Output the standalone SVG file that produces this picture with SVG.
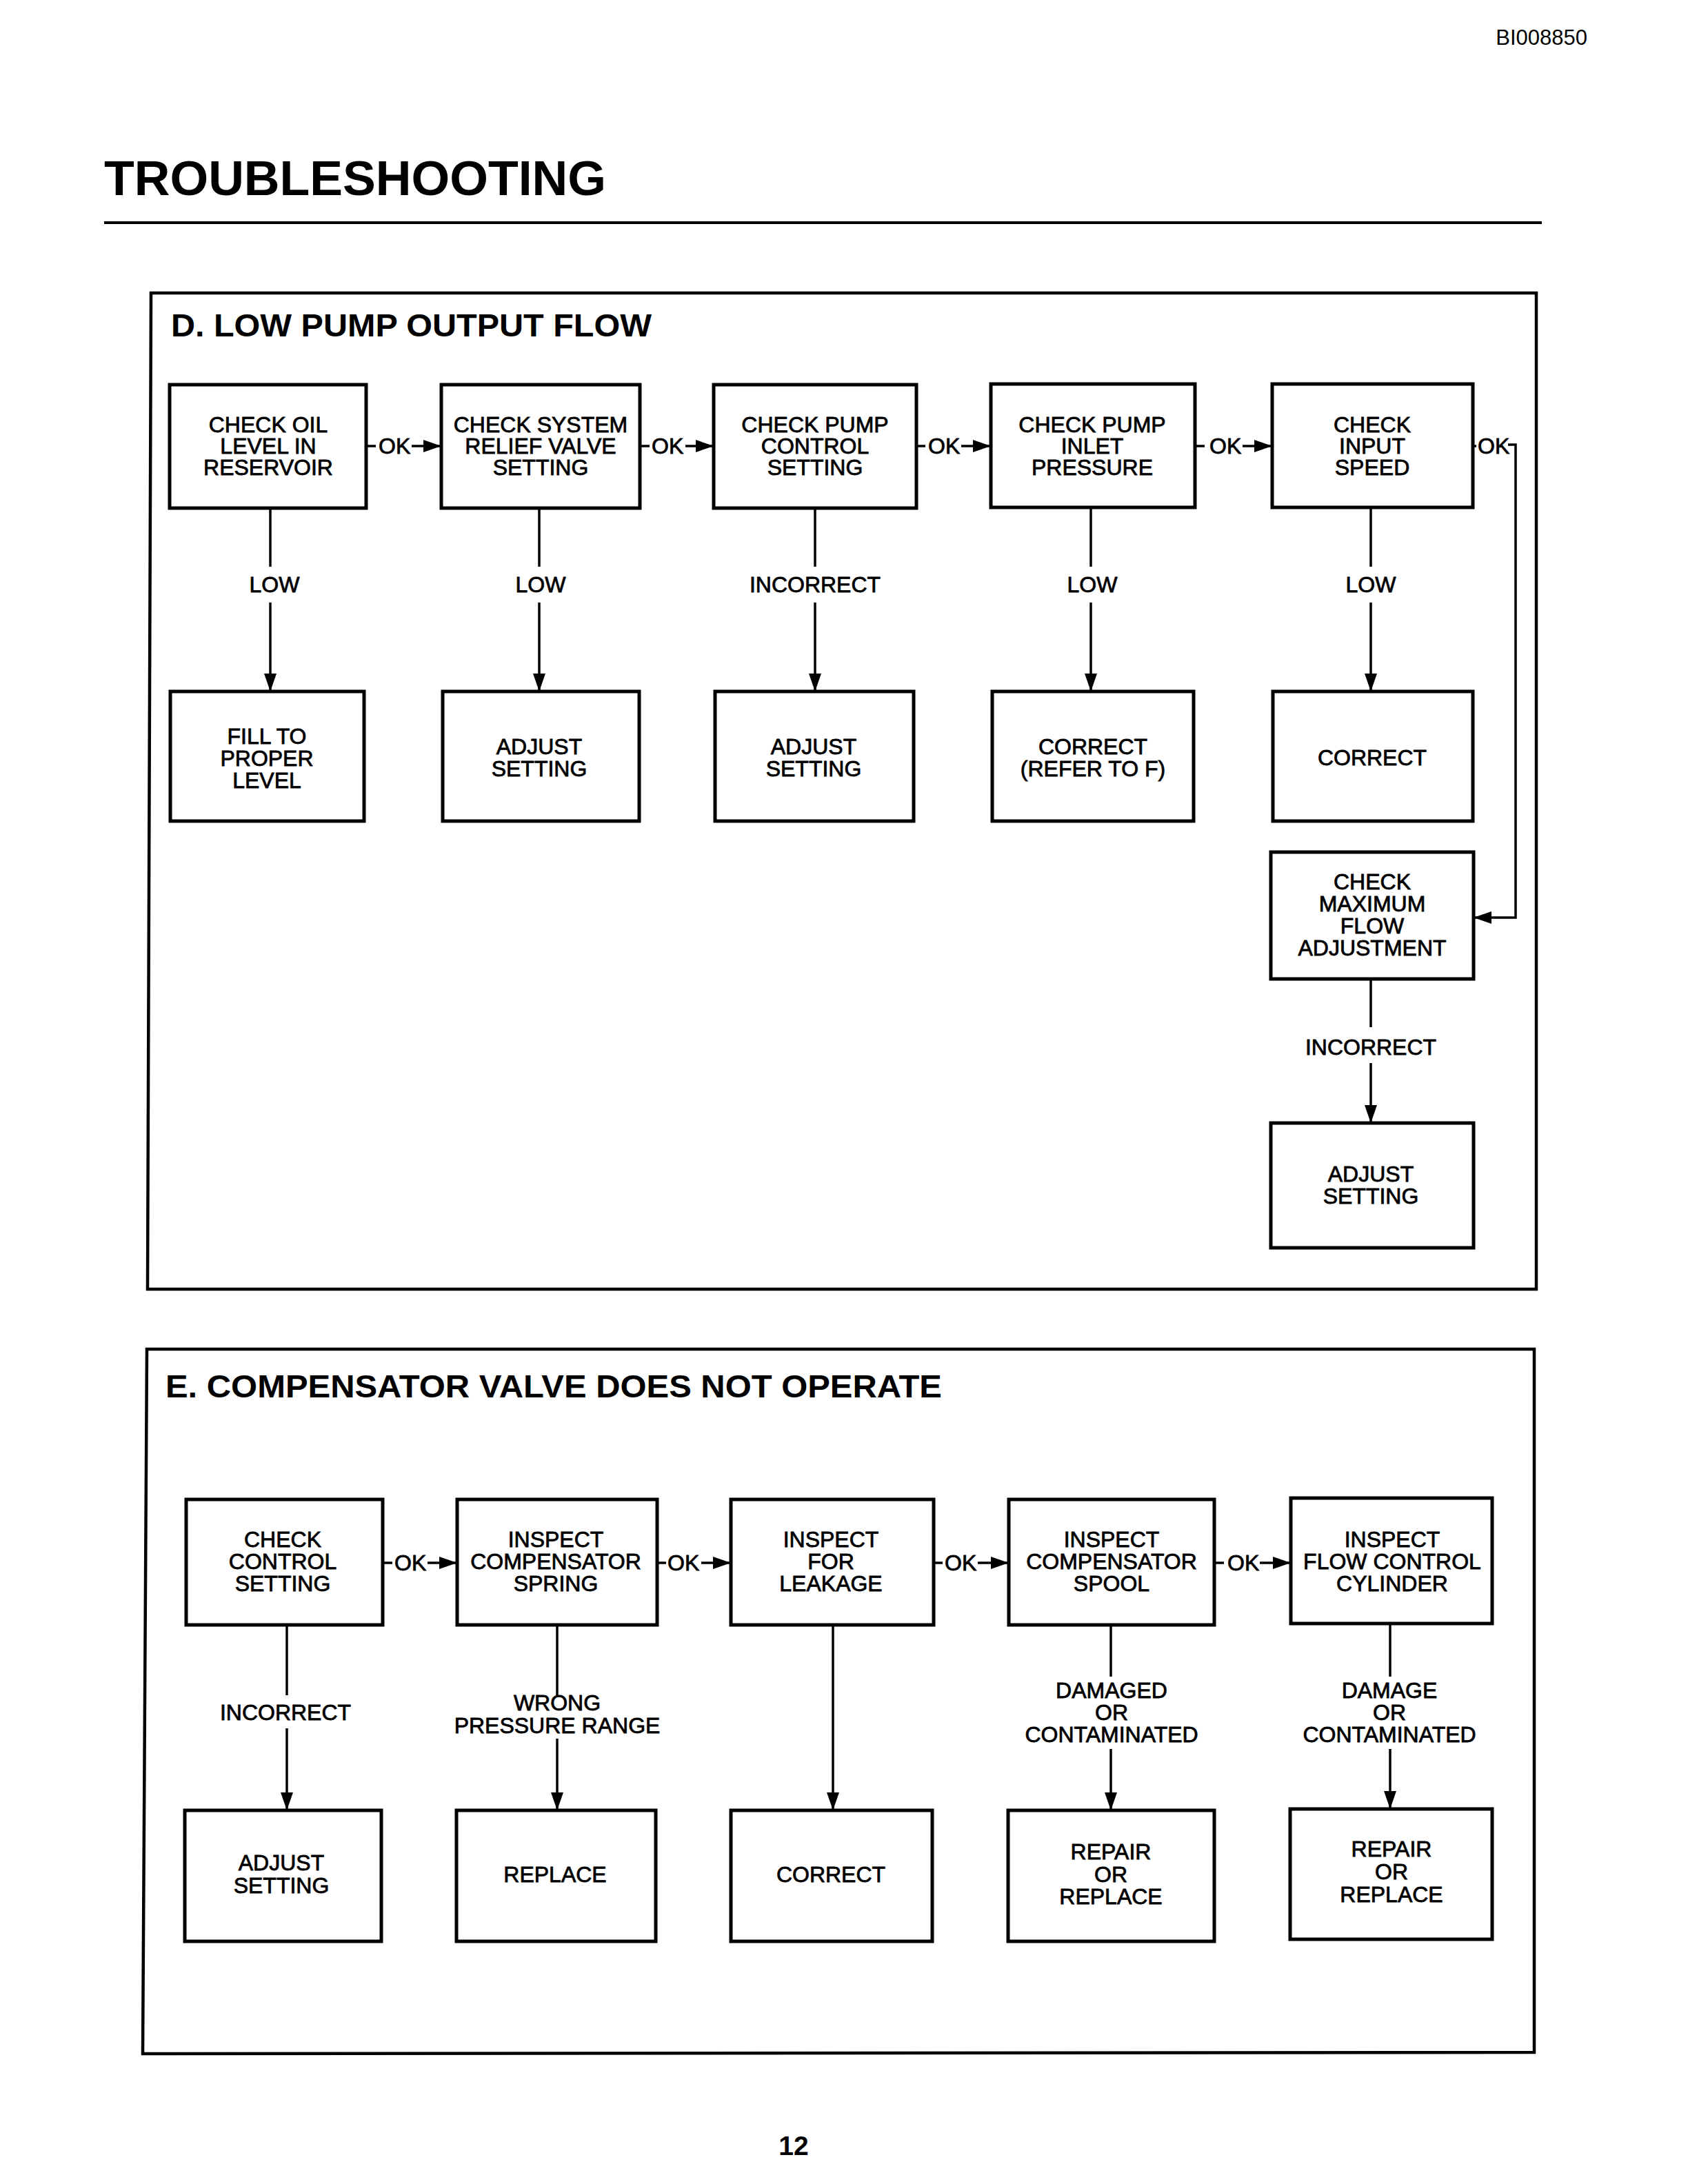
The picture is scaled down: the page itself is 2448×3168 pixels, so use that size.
<svg xmlns="http://www.w3.org/2000/svg" width="2448" height="3168" viewBox="0 0 2448 3168">
<defs>
<style>
.t{font-family:"Liberation Sans",Arial,Helvetica,sans-serif;fill:#000}
.lbl{font-size:32px;text-anchor:middle;stroke:#000;stroke-width:0.8}
.ok{font-size:32px;text-anchor:start;stroke:#000;stroke-width:0.8}
.h{font-weight:bold}
.box{fill:#fff;stroke:#000;stroke-width:5}
.frame{fill:none;stroke:#000;stroke-width:4.5}
.ln{fill:none;stroke:#000;stroke-width:3.5}
.arr{marker-end:url(#ah)}
</style>
<marker id="ah" markerUnits="userSpaceOnUse" markerWidth="26" markerHeight="18" refX="26" refY="9" orient="auto">
<path d="M0,0 L26,9 L0,18 Z" fill="#000"/>
</marker>
</defs>
<rect x="0" y="0" width="2448" height="3168" fill="#fff"/>

<text class="t" x="2302" y="65" font-size="31" text-anchor="end">BI008850</text>
<text class="t h" x="151" y="283" font-size="71" textLength="728" lengthAdjust="spacingAndGlyphs">TROUBLESHOOTING</text>
<line x1="151" y1="323" x2="2236" y2="323" stroke="#000" stroke-width="4"/>

<!-- Section D -->
<g id="sectionD">
<polygon class="frame" points="219,425 2228,425 2228,1870 214,1870"/>
<text class="t h" x="248" y="488" font-size="47" textLength="697" lengthAdjust="spacingAndGlyphs">D. LOW PUMP OUTPUT FLOW</text>
</g>

<g id="connectorsD">
<line class="ln" x1="531" y1="647" x2="545" y2="647"/><text class="t ok" x="549" y="658">OK</text><line class="ln arr" x1="597" y1="647" x2="640" y2="647"/>
<line class="ln" x1="928" y1="647" x2="942" y2="647"/><text class="t ok" x="945" y="658">OK</text><line class="ln arr" x1="994" y1="647" x2="1035" y2="647"/>
<line class="ln" x1="1329" y1="647" x2="1342" y2="647"/><text class="t ok" x="1346" y="658">OK</text><line class="ln arr" x1="1394" y1="647" x2="1437" y2="647"/>
<line class="ln" x1="1733" y1="647" x2="1747" y2="647"/><text class="t ok" x="1754" y="658">OK</text><line class="ln arr" x1="1802" y1="647" x2="1845" y2="647"/>
<line class="ln" x1="2136" y1="647" x2="2141" y2="647"/><text class="t ok" x="2143" y="658">OK</text><path class="ln arr" d="M2187,645 H2198 V1331 H2137"/>
<line class="ln" x1="392" y1="737" x2="392" y2="822"/><text class="t lbl" x="398" y="859">LOW</text><line class="ln arr" x1="392" y1="874" x2="392" y2="1003"/>
<line class="ln" x1="782" y1="737" x2="782" y2="822"/><text class="t lbl" x="784" y="859">LOW</text><line class="ln arr" x1="782" y1="874" x2="782" y2="1003"/>
<line class="ln" x1="1182" y1="737" x2="1182" y2="822"/><text class="t lbl" x="1182" y="859">INCORRECT</text><line class="ln arr" x1="1182" y1="874" x2="1182" y2="1003"/>
<line class="ln" x1="1582" y1="736" x2="1582" y2="822"/><text class="t lbl" x="1584" y="859">LOW</text><line class="ln arr" x1="1582" y1="874" x2="1582" y2="1003"/>
<line class="ln" x1="1988" y1="736" x2="1988" y2="822"/><text class="t lbl" x="1988" y="859">LOW</text><line class="ln arr" x1="1988" y1="874" x2="1988" y2="1003"/>
<line class="ln" x1="1988" y1="1420" x2="1988" y2="1490"/><text class="t lbl" x="1988" y="1530">INCORRECT</text><line class="ln arr" x1="1988" y1="1542" x2="1988" y2="1629"/>
</g>

<g id="d1"><rect class="box" x="246" y="558" width="285" height="179"/><text class="t lbl"><tspan x="389" y="627">CHECK OIL</tspan><tspan x="389" y="658">LEVEL IN</tspan><tspan x="389" y="689">RESERVOIR</tspan></text></g>
<g id="d2"><rect class="box" x="640" y="558" width="288" height="179"/><text class="t lbl"><tspan x="784" y="627">CHECK SYSTEM</tspan><tspan x="784" y="658">RELIEF VALVE</tspan><tspan x="784" y="689">SETTING</tspan></text></g>
<g id="d3"><rect class="box" x="1035" y="558" width="294" height="179"/><text class="t lbl"><tspan x="1182" y="627">CHECK PUMP</tspan><tspan x="1182" y="658">CONTROL</tspan><tspan x="1182" y="689">SETTING</tspan></text></g>
<g id="d4"><rect class="box" x="1437" y="557" width="296" height="179"/><text class="t lbl"><tspan x="1584" y="627">CHECK PUMP</tspan><tspan x="1584" y="658">INLET</tspan><tspan x="1584" y="689">PRESSURE</tspan></text></g>
<g id="d5"><rect class="box" x="1845" y="557" width="291" height="179"/><text class="t lbl"><tspan x="1990" y="627">CHECK</tspan><tspan x="1990" y="658">INPUT</tspan><tspan x="1990" y="689">SPEED</tspan></text></g>

<g id="d1r"><rect class="box" x="247" y="1003" width="281" height="188"/><text class="t lbl"><tspan x="387" y="1079">FILL TO</tspan><tspan x="387" y="1111">PROPER</tspan><tspan x="387" y="1143">LEVEL</tspan></text></g>
<g id="d2r"><rect class="box" x="642" y="1003" width="285" height="188"/><text class="t lbl"><tspan x="782" y="1094">ADJUST</tspan><tspan x="782" y="1126">SETTING</tspan></text></g>
<g id="d3r"><rect class="box" x="1037" y="1003" width="288" height="188"/><text class="t lbl"><tspan x="1180" y="1094">ADJUST</tspan><tspan x="1180" y="1126">SETTING</tspan></text></g>
<g id="d4r"><rect class="box" x="1439" y="1003" width="292" height="188"/><text class="t lbl"><tspan x="1585" y="1094">CORRECT</tspan><tspan x="1585" y="1126">(REFER TO F)</tspan></text></g>
<g id="d5r"><rect class="box" x="1846" y="1003" width="290" height="188"/><text class="t lbl" x="1990" y="1110">CORRECT</text></g>
<g id="d6"><rect class="box" x="1843" y="1236" width="294" height="184"/><text class="t lbl"><tspan x="1990" y="1290">CHECK</tspan><tspan x="1990" y="1322">MAXIMUM</tspan><tspan x="1990" y="1354">FLOW</tspan><tspan x="1990" y="1386">ADJUSTMENT</tspan></text></g>
<g id="d6r"><rect class="box" x="1843" y="1629" width="294" height="181"/><text class="t lbl"><tspan x="1988" y="1714">ADJUST</tspan><tspan x="1988" y="1746">SETTING</tspan></text></g>

<!-- Section E -->
<g id="sectionE">
<polygon class="frame" points="213,1957 2225,1957 2225,2977 207,2979"/>
<text class="t h" x="240" y="2027" font-size="47" textLength="1126" lengthAdjust="spacingAndGlyphs">E. COMPENSATOR VALVE DOES NOT OPERATE</text>
</g>

<g id="connectorsE">
<line class="ln" x1="555" y1="2267" x2="569" y2="2267"/><text class="t ok" x="572" y="2278">OK</text><line class="ln arr" x1="620" y1="2267" x2="663" y2="2267"/>
<line class="ln" x1="953" y1="2267" x2="966" y2="2267"/><text class="t ok" x="968" y="2278">OK</text><line class="ln arr" x1="1017" y1="2267" x2="1060" y2="2267"/>
<line class="ln" x1="1354" y1="2267" x2="1367" y2="2267"/><text class="t ok" x="1370" y="2278">OK</text><line class="ln arr" x1="1418" y1="2267" x2="1463" y2="2267"/>
<line class="ln" x1="1761" y1="2267" x2="1775" y2="2267"/><text class="t ok" x="1780" y="2278">OK</text><line class="ln arr" x1="1827" y1="2267" x2="1872" y2="2267"/>
<line class="ln" x1="416" y1="2357" x2="416" y2="2459"/><text class="t lbl" x="414" y="2495">INCORRECT</text><line class="ln arr" x1="416" y1="2507" x2="416" y2="2626"/>
<line class="ln" x1="808" y1="2357" x2="808" y2="2459"/><text class="t lbl"><tspan x="808" y="2481">WRONG</tspan><tspan x="808" y="2514">PRESSURE RANGE</tspan></text><line class="ln arr" x1="808" y1="2522" x2="808" y2="2626"/>
<line class="ln arr" x1="1208" y1="2357" x2="1208" y2="2626"/>
<line class="ln" x1="1611" y1="2357" x2="1611" y2="2432"/><text class="t lbl"><tspan x="1612" y="2463">DAMAGED</tspan><tspan x="1612" y="2495">OR</tspan><tspan x="1612" y="2527">CONTAMINATED</tspan></text><line class="ln arr" x1="1611" y1="2537" x2="1611" y2="2626"/>
<line class="ln" x1="2016" y1="2355" x2="2016" y2="2432"/><text class="t lbl"><tspan x="2015" y="2463">DAMAGE</tspan><tspan x="2015" y="2495">OR</tspan><tspan x="2015" y="2527">CONTAMINATED</tspan></text><line class="ln arr" x1="2016" y1="2537" x2="2016" y2="2624"/>
</g>

<g id="e1"><rect class="box" x="270" y="2175" width="285" height="182"/><text class="t lbl"><tspan x="410" y="2244">CHECK</tspan><tspan x="410" y="2276">CONTROL</tspan><tspan x="410" y="2308">SETTING</tspan></text></g>
<g id="e2"><rect class="box" x="663" y="2175" width="290" height="182"/><text class="t lbl"><tspan x="806" y="2244">INSPECT</tspan><tspan x="806" y="2276">COMPENSATOR</tspan><tspan x="806" y="2308">SPRING</tspan></text></g>
<g id="e3"><rect class="box" x="1060" y="2175" width="294" height="182"/><text class="t lbl"><tspan x="1205" y="2244">INSPECT</tspan><tspan x="1205" y="2276">FOR</tspan><tspan x="1205" y="2308">LEAKAGE</tspan></text></g>
<g id="e4"><rect class="box" x="1463" y="2175" width="298" height="182"/><text class="t lbl"><tspan x="1612" y="2244">INSPECT</tspan><tspan x="1612" y="2276">COMPENSATOR</tspan><tspan x="1612" y="2308">SPOOL</tspan></text></g>
<g id="e5"><rect class="box" x="1872" y="2173" width="292" height="182"/><text class="t lbl"><tspan x="2019" y="2244">INSPECT</tspan><tspan x="2019" y="2276">FLOW CONTROL</tspan><tspan x="2019" y="2308">CYLINDER</tspan></text></g>

<g id="e1r"><rect class="box" x="268" y="2626" width="285" height="190"/><text class="t lbl"><tspan x="408" y="2713">ADJUST</tspan><tspan x="408" y="2746">SETTING</tspan></text></g>
<g id="e2r"><rect class="box" x="662" y="2626" width="289" height="190"/><text class="t lbl" x="805" y="2730">REPLACE</text></g>
<g id="e3r"><rect class="box" x="1060" y="2626" width="292" height="190"/><text class="t lbl" x="1205" y="2730">CORRECT</text></g>
<g id="e4r"><rect class="box" x="1462" y="2626" width="299" height="190"/><text class="t lbl"><tspan x="1611" y="2697">REPAIR</tspan><tspan x="1611" y="2730">OR</tspan><tspan x="1611" y="2762">REPLACE</tspan></text></g>
<g id="e5r"><rect class="box" x="1871" y="2624" width="293" height="189"/><text class="t lbl"><tspan x="2018" y="2693">REPAIR</tspan><tspan x="2018" y="2726">OR</tspan><tspan x="2018" y="2759">REPLACE</tspan></text></g>

<text class="t h" x="1151" y="3126" font-size="39" text-anchor="middle">12</text>
</svg>
